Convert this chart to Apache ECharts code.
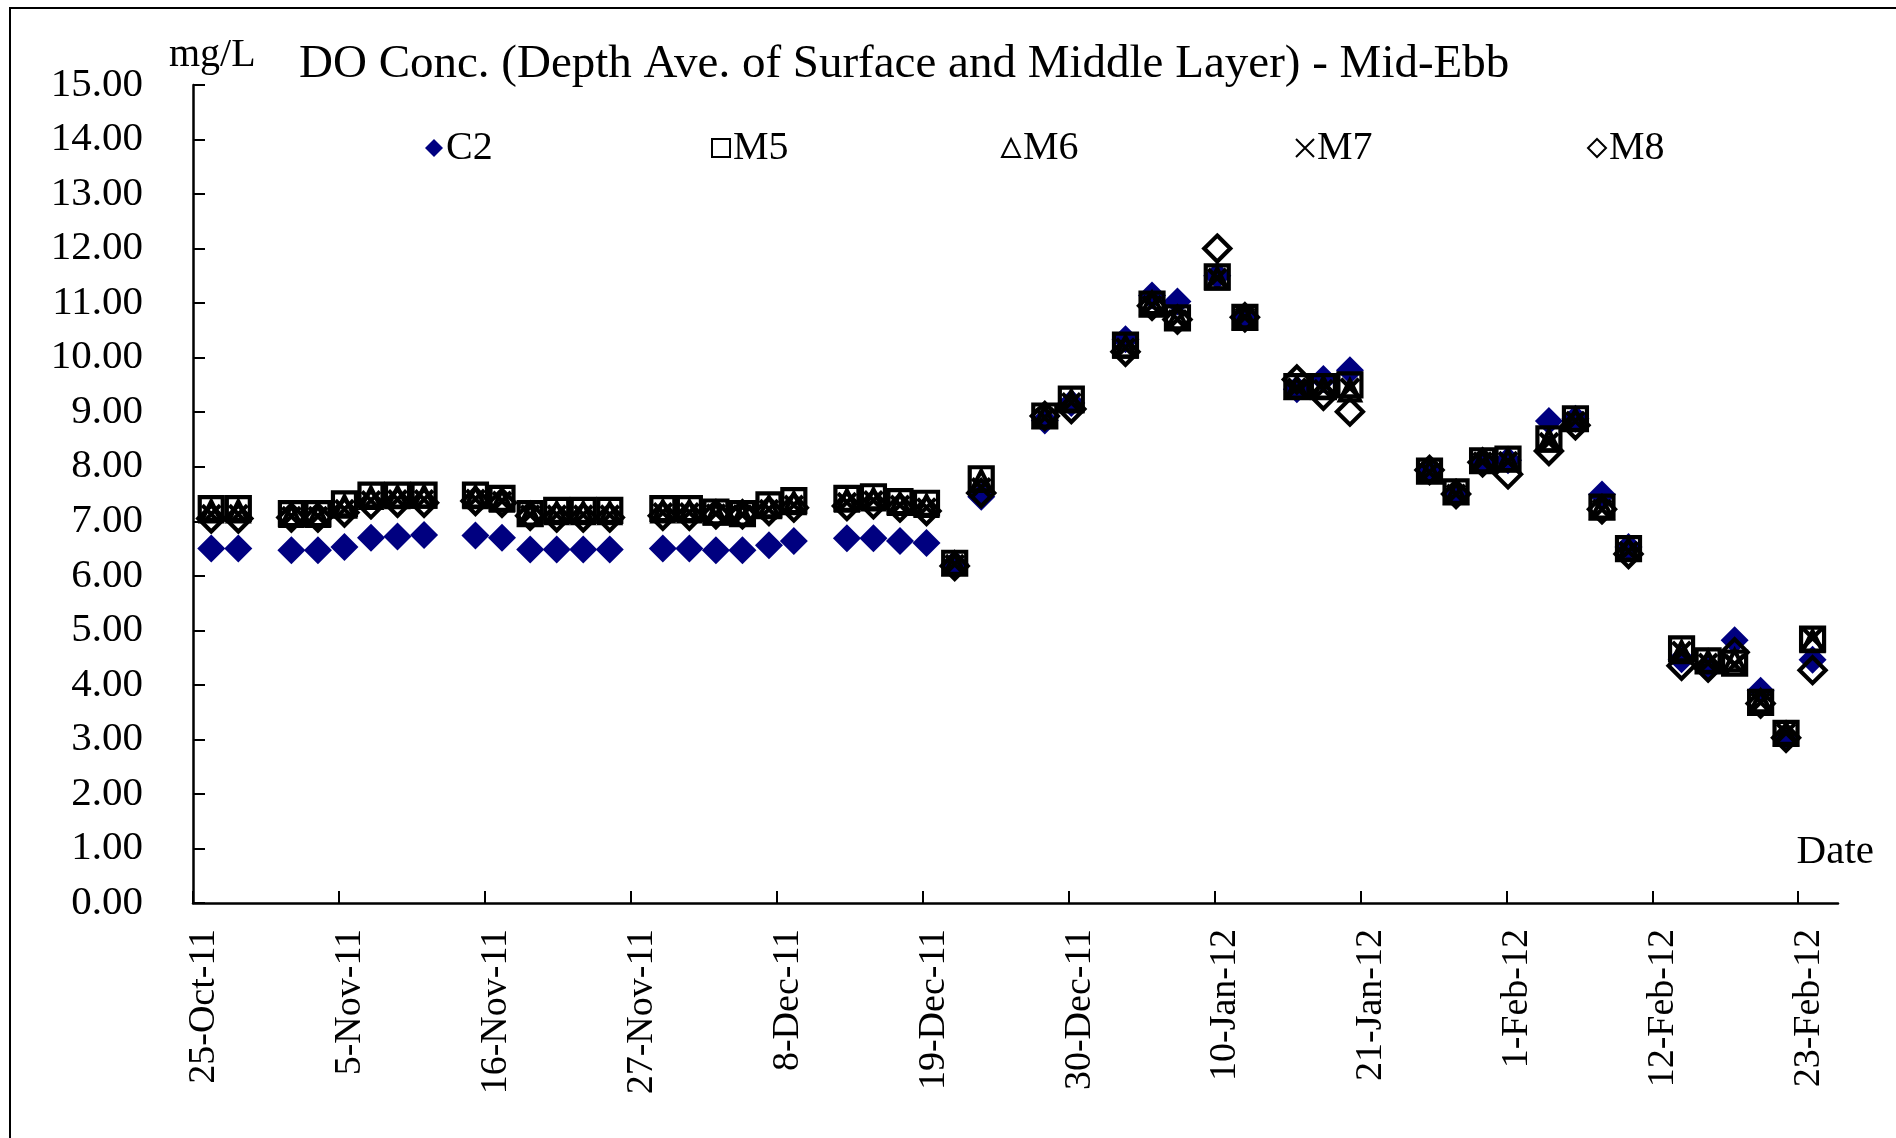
<!DOCTYPE html>
<html>
<head>
<meta charset="utf-8">
<title>DO Conc. - Mid-Ebb</title>
<script src="https://cdn.jsdelivr.net/npm/echarts@6/dist/echarts.min.js"></script>
<style>
  html, body { margin: 0; padding: 0; background: #fff; }
  #chart { width: 1896px; height: 1138px; }
</style>
</head>
<body>
<div id="chart"></div>
<script>
// sampling times (mid-ebb)
const sampleTimes = [
  '2011-10-26 09:00', '2011-10-28 10:00',
  '2011-11-01 10:00', '2011-11-03 10:00', '2011-11-05 10:00', '2011-11-07 10:00', '2011-11-09 10:00', '2011-11-11 10:00',
  '2011-11-15 07:00', '2011-11-17 07:00', '2011-11-19 10:00', '2011-11-21 10:00', '2011-11-23 10:00', '2011-11-25 10:00',
  '2011-11-29 10:00', '2011-12-01 10:00', '2011-12-03 10:00', '2011-12-05 10:00', '2011-12-07 10:00', '2011-12-09 07:00',
  '2011-12-13 07:00', '2011-12-15 07:00', '2011-12-17 07:00', '2011-12-19 07:00',
  '2011-12-21 10:00', '2011-12-23 10:00',
  '2011-12-28 05:00', '2011-12-30 05:00', '2012-01-03 07:00', '2012-01-05 07:00', '2012-01-07 05:00', '2012-01-10 05:00', '2012-01-12 07:00',
  '2012-01-16 05:00', '2012-01-18 05:00', '2012-01-20 05:00',
  '2012-01-26 05:00', '2012-01-28 05:00', '2012-01-30 05:00', '2012-02-01 03:00', '2012-02-04 05:00', '2012-02-06 05:00', '2012-02-08 05:00', '2012-02-10 05:00',
  '2012-02-14 05:00', '2012-02-16 05:00', '2012-02-18 05:00', '2012-02-20 04:00', '2012-02-22 02:00', '2012-02-24 02:00'
];

// DO concentration, mg/L
const c2 = [
  6.50, 6.50,
  6.47, 6.47, 6.53, 6.70, 6.72, 6.75,
  6.74, 6.70, 6.48, 6.48, 6.48, 6.48,
  6.50, 6.50, 6.47, 6.47, 6.56, 6.64,
  6.69, 6.69, 6.64, 6.60,
  6.22, 7.45,
  8.85, 9.17, 10.34, 11.14, 11.03, 11.50, 10.74,
  9.42, 9.61, 9.77,
  7.95, 7.50, 8.10, 8.12, 8.84, 8.88, 7.49, 6.53,
  4.47, 4.30, 4.82, 3.89, 3.05, 4.46
];
const m5 = [
  7.23, 7.23,
  7.14, 7.14, 7.32, 7.48, 7.48, 7.48,
  7.48, 7.42, 7.14, 7.20, 7.20, 7.20,
  7.23, 7.23, 7.17, 7.14, 7.30, 7.38,
  7.42, 7.45, 7.36, 7.33,
  6.23, 7.78,
  8.93, 9.24, 10.23, 10.98, 10.73, 11.48, 10.74,
  9.47, 9.47, 9.50,
  7.92, 7.54, 8.11, 8.14, 8.51, 8.88, 7.26, 6.50,
  4.66, 4.44, 4.40, 3.68, 3.11, 4.84
];
const m6 = [
  7.18, 7.18,
  7.10, 7.10, 7.27, 7.43, 7.44, 7.45,
  7.44, 7.38, 7.12, 7.15, 7.15, 7.15,
  7.18, 7.18, 7.14, 7.12, 7.26, 7.33,
  7.38, 7.40, 7.32, 7.28,
  6.22, 7.74,
  8.92, 9.20, 10.20, 11.00, 10.72, 11.45, 10.74,
  9.45, 9.45, 9.40,
  7.92, 7.52, 8.10, 8.12, 8.48, 8.86, 7.25, 6.48,
  4.60, 4.42, 4.45, 3.70, 3.10, 4.80
];
const m7 = [
  7.13, 7.13,
  7.09, 7.09, 7.22, 7.38, 7.40, 7.40,
  7.41, 7.37, 7.12, 7.12, 7.12, 7.12,
  7.16, 7.16, 7.14, 7.12, 7.22, 7.30,
  7.35, 7.38, 7.30, 7.25,
  6.21, 7.62,
  8.90, 9.18, 10.18, 10.96, 10.70, 11.46, 10.74,
  9.45, 9.42, 9.45,
  7.90, 7.50, 8.09, 8.10, 8.45, 8.84, 7.22, 6.45,
  4.62, 4.40, 4.38, 3.68, 3.12, 4.86
];
const m8 = [
  7.05, 7.05,
  7.07, 7.07, 7.16, 7.31, 7.34, 7.34,
  7.37, 7.34, 7.10, 7.07, 7.07, 7.07,
  7.10, 7.10, 7.13, 7.13, 7.19, 7.25,
  7.28, 7.31, 7.25, 7.19,
  6.18, 7.52,
  8.93, 9.06, 10.11, 10.95, 10.70, 12.00, 10.74,
  9.60, 9.30, 9.01,
  7.94, 7.50, 8.08, 7.86, 8.29, 8.76, 7.22, 6.40,
  4.35, 4.32, 4.60, 3.66, 3.03, 4.27
];

const tickLabels = ['25-Oct-11', '5-Nov-11', '16-Nov-11', '27-Nov-11', '8-Dec-11', '19-Dec-11',
  '30-Dec-11', '10-Jan-12', '21-Jan-12', '1-Feb-12', '12-Feb-12', '23-Feb-12'];

const FONT = '"Liberation Serif", "Times New Roman", serif';
const DAY = 86400000;
const T0 = Date.UTC(2011, 9, 25);
const STEP = 11; // days between date ticks

function dayOffset(s) {
  const [d, t] = s.split(' ');
  const [y, mo, da] = d.split('-').map(Number);
  const [h, mi] = t.split(':').map(Number);
  return (Date.UTC(y, mo - 1, da, h, mi) - T0) / DAY;
}
const xs = sampleTimes.map(dayOffset);
const pairs = vals => vals.map((v, i) => [xs[i], v]);
const tickValues = tickLabels.map((_, i) => i * STEP);

const hollow = { color: 'transparent', borderColor: '#000', borderWidth: 4.2, opacity: 1 };
const stations = [
  { name: 'C2', data: c2, symbol: 'diamond', size: 28, style: { color: '#000080', opacity: 1 } },
  { name: 'M5', data: m5, symbol: 'rect', size: 23, style: hollow },
  { name: 'M6', data: m6, symbol: 'triangle', size: 20, style: hollow },
  { name: 'M7', data: m7, symbol: 'path://M0,0L10,10M10,0L0,10', size: 18, style: hollow },
  { name: 'M8', data: m8, symbol: 'diamond', size: 26, style: hollow }
];
const legendX = [429, 715, 1005, 1299, 1591];

const chart = echarts.init(document.getElementById('chart'));
chart.setOption({
  backgroundColor: '#fff',
  animation: false,
  textStyle: { fontFamily: FONT, color: '#000' },
  title: {
    text: 'DO Conc. (Depth Ave. of Surface and Middle Layer) - Mid-Ebb',
    left: 294, top: 36,
    textStyle: { fontFamily: FONT, fontSize: 47, fontWeight: 'normal', color: '#000' }
  },
  legend: stations.map((s, i) => ({
    data: [s.name],
    left: legendX[i] - 9,
    top: 123,
    itemWidth: 18, itemHeight: 18, itemGap: 0,
    selectedMode: false,
    itemStyle: s.name === 'C2' ? {} : { borderWidth: 2 },
    textStyle: { fontFamily: FONT, fontSize: 40, color: '#000', padding: [0, 0, 0, -2] }
  })),
  grid: { left: 193, right: 58, top: 85, bottom: 235 },
  xAxis: {
    type: 'value',
    min: 0, max: 124, interval: STEP,
    name: 'Date',
    nameLocation: 'end',
    nameGap: 0,
    nameTextStyle: { fontFamily: FONT, fontSize: 41, color: '#000', align: 'right', verticalAlign: 'bottom', padding: [0, -36, 30, 0] },
    axisLine: { lineStyle: { color: '#000', width: 2.5 } },
    axisTick: { inside: true, length: 12, lineStyle: { color: '#000', width: 2 }, customValues: tickValues },
    splitLine: { show: false },
    axisLabel: {
      customValues: tickValues,
      rotate: 90, margin: 26,
      verticalAlign: 'top', lineHeight: 22,
      fontFamily: FONT, fontSize: 38, color: '#000',
      formatter: v => tickLabels[Math.round(v / STEP)] || ''
    }
  },
  yAxis: {
    type: 'value',
    min: 0, max: 15, interval: 1,
    name: 'mg/L',
    nameLocation: 'end',
    nameGap: 10,
    nameTextStyle: { fontFamily: FONT, fontSize: 40, color: '#000', align: 'left', padding: [0, 0, 0, -24] },
    axisLine: { show: true, lineStyle: { color: '#000', width: 2.5 } },
    axisTick: { show: true, inside: true, length: 12, lineStyle: { color: '#000', width: 2 } },
    splitLine: { show: false },
    axisLabel: {
      margin: 50,
      fontFamily: FONT, fontSize: 41, color: '#000',
      formatter: v => v.toFixed(2)
    }
  },
  graphic: [{
    type: 'rect',
    shape: { x: 10, y: 8, width: 2000, height: 2000 },
    style: { fill: 'none', stroke: '#000', lineWidth: 2 },
    silent: true
  }],
  series: stations.map(s => ({
    name: s.name,
    type: 'scatter',
    symbol: s.symbol,
    symbolSize: s.size,
    itemStyle: s.style,
    emphasis: { disabled: true },
    data: pairs(s.data)
  }))
});
</script>
</body>
</html>
